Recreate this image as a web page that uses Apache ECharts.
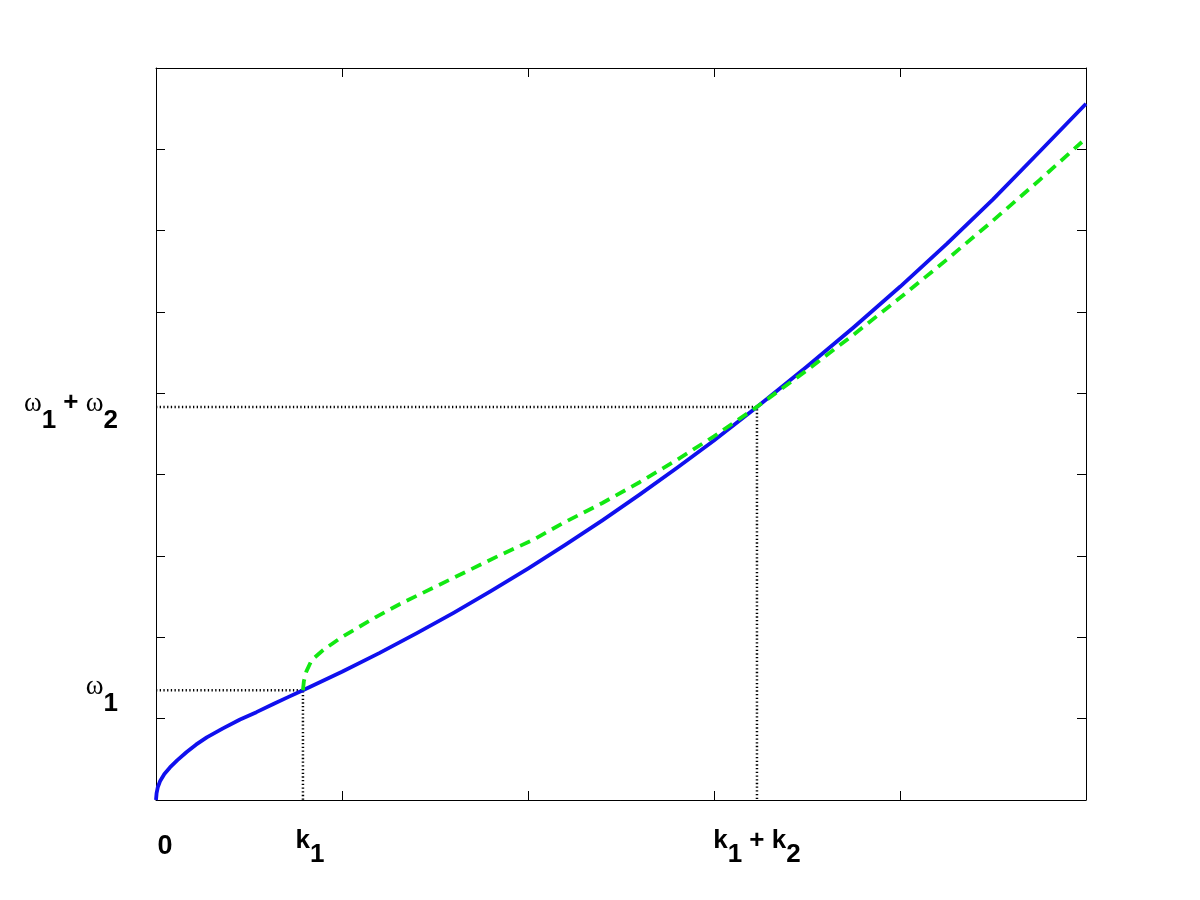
<!DOCTYPE html>
<html>
<head>
<meta charset="utf-8">
<script src="https://cdn.jsdelivr.net/npm/echarts@6/dist/echarts.min.js"></script>
<style>html,body{margin:0;padding:0;background:#fff}#c{width:1200px;height:900px}</style>
</head>
<body>
<div id="c"></div>
<script>
// ---- data ----
var k1 = 0.79;
var k1k2 = 3.231;
var w1 = 1.35;
var w1w2 = 4.832;

var xLabelValues = [0, k1, k1k2];
var xLabelTexts = ['0', 'k_1', 'k_1 + k_2'];
var yLabelValues = [w1, w1w2];
var yLabelTexts = ['ω_1', 'ω_1 + ω_2'];

var blueX = [0, 0.003, 0.01, 0.0215, 0.045, 0.075, 0.115, 0.165, 0.215, 0.273, 0.36, 0.452, 0.54, 0.631, 0.71, 0.79,
             1.0, 1.2, 1.4, 1.6, 1.8, 2.0, 2.2, 2.4, 2.6, 2.8, 3.0, 3.231,
             3.5, 3.75, 4.0, 4.25, 4.5, 4.75, 5.0];
var blueY = [0, 0.08, 0.16, 0.23, 0.32, 0.40, 0.49, 0.59, 0.68, 0.77, 0.88, 0.99, 1.08, 1.18, 1.265, 1.35,
             1.577, 1.806, 2.048, 2.301, 2.567, 2.845, 3.136, 3.439, 3.754, 4.081, 4.421, 4.832,
             5.33, 5.81, 6.31, 6.835, 7.385, 7.97, 8.56];

var greenX = [0.79, 0.795, 0.808, 0.837, 0.899, 0.989, 1.079, 1.187, 1.312, 1.491, 1.670, 1.849, 2.029, 2.183,
              2.4, 2.6, 2.8, 3.0, 3.231, 3.5, 3.75, 4.0, 4.25, 4.5, 4.75, 4.978];
var greenY = [1.35, 1.46, 1.578, 1.721, 1.844, 1.988, 2.111, 2.255, 2.41, 2.61, 2.81, 3.01, 3.20, 3.398,
              3.652, 3.907, 4.18, 4.472, 4.834, 5.285, 5.721, 6.174, 6.641, 7.124, 7.622, 8.09];

// ---- helpers ----
function zip(xs, ys) { return xs.map(function (x, i) { return [x, ys[i]]; }); }
function toRich(s, pre) {
  var out = '', buf = '';
  function flush() { if (buf) { out += '{' + pre + 'n|' + buf + '}'; buf = ''; } }
  for (var i = 0; i < s.length; i++) {
    var c = s[i];
    if (c === '_') { flush(); out += '{' + pre + 's|' + s[i + 1] + '}'; i++; }
    else if (c === 'ω') { flush(); out += '{' + pre + 'w|ω}'; }
    else buf += c;
  }
  flush();
  return out;
}
function labelFor(vals, texts, pre) {
  return function (v) {
    var best = 0;
    for (var i = 1; i < vals.length; i++) if (Math.abs(vals[i] - v) < Math.abs(vals[best] - v)) best = i;
    var t = texts[best];
    if (t === '0') return '{xz|0}';
    var r = toRich(t, pre);
    if (t === 'k_1') r = r.replace('{xn|k}', '{xk|k}');
    return r;
  };
}

var SANS = 'Liberation Sans, Arial, sans-serif';
var richX = {
  xn: { fontFamily: SANS, fontWeight: 'bold', fontSize: 26, color: '#000', verticalAlign: 'top', lineHeight: 30 },
  xk: { fontFamily: SANS, fontWeight: 'bold', fontSize: 26, color: '#000', verticalAlign: 'top', lineHeight: 30, padding: [0, 0, 0, 14] },
  xs: { fontFamily: SANS, fontWeight: 'bold', fontSize: 26, color: '#000', verticalAlign: 'bottom', lineHeight: 40 },
  xz: { fontFamily: SANS, fontWeight: 'bold', fontSize: 27, color: '#000', verticalAlign: 'top', lineHeight: 30, padding: [5, 0, 0, 18] }
};
var richY = {
  yn: { fontFamily: SANS, fontWeight: 'bold', fontSize: 26, color: '#000', verticalAlign: 'top', lineHeight: 26 },
  ys: { fontFamily: SANS, fontWeight: 'bold', fontSize: 26, color: '#000', verticalAlign: 'bottom', lineHeight: 44 },
  yw: { fontFamily: 'Liberation Serif, serif', fontSize: 27, color: '#000', verticalAlign: 'top', lineHeight: 30 }
};

var axisLine = { show: true, onZero: false, lineStyle: { color: '#000', width: 1 } };
var tick = { show: true, inside: true, length: 9, lineStyle: { color: '#000', width: 1 } };

var dotted = { color: '#000', width: 2.5, type: [1.3, 2.4] };

var chart = echarts.init(document.getElementById('c'), null, { renderer: 'canvas' });
chart.setOption({
  backgroundColor: '#fff',
  animation: false,
  grid: { left: 156, right: 114, top: 68, bottom: 100, containLabel: false },
  xAxis: [
    { type: 'value', min: 0, max: 5, interval: 1, position: 'bottom', axisLine: axisLine, axisTick: tick, splitLine: { show: false },
      axisLabel: { show: true, customValues: xLabelValues, margin: 28, formatter: labelFor(xLabelValues, xLabelTexts, 'x'), rich: richX } },
    { type: 'value', min: 0, max: 5, interval: 1, position: 'top', axisLine: axisLine, axisTick: tick, splitLine: { show: false }, axisLabel: { show: false } }
  ],
  yAxis: [
    { type: 'value', min: 0, max: 9, interval: 1, position: 'left', axisLine: axisLine, axisTick: tick, splitLine: { show: false },
      axisLabel: { show: true, customValues: yLabelValues, margin: 38, padding: [10, 0, 0, 0], formatter: labelFor(yLabelValues, yLabelTexts, 'y'), rich: richY } },
    { type: 'value', min: 0, max: 9, interval: 1, position: 'right', axisLine: axisLine, axisTick: tick, splitLine: { show: false }, axisLabel: { show: false } }
  ],
  series: [
    { type: 'line', data: [[0, w1], [k1, w1], [k1, 0]], showSymbol: false, lineStyle: dotted, z: 1 },
    { type: 'line', data: [[0, w1w2], [k1k2, w1w2], [k1k2, 0]], showSymbol: false, lineStyle: dotted, z: 1 },
    { type: 'line', data: zip(greenX, greenY), showSymbol: false, smooth: false,
      lineStyle: { color: '#12e812', width: 3.8, type: [11, 7], join: 'round' }, z: 3 },
    { type: 'line', data: zip(blueX, blueY), showSymbol: false, smooth: false,
      lineStyle: { color: '#1010ee', width: 3.8, join: 'round' }, z: 2 }
  ]
});
</script>
</body>
</html>
